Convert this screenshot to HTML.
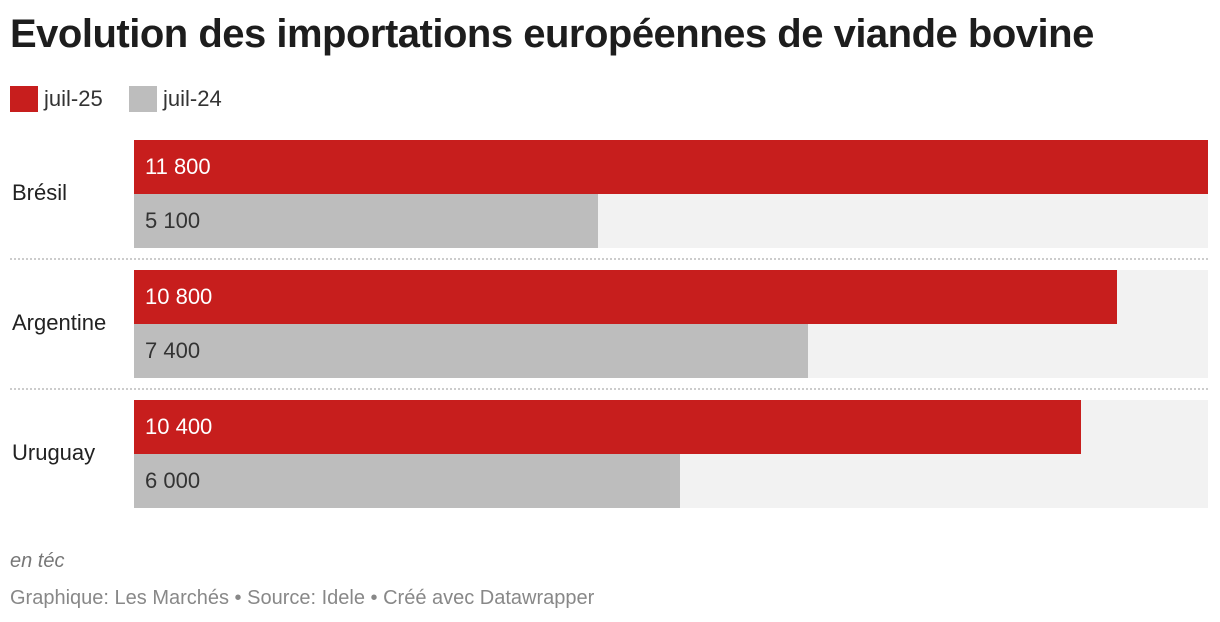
<!DOCTYPE html>
<html><head><meta charset="utf-8"><style>
body{margin:0;width:1220px;height:622px;background:#fff;font-family:"Liberation Sans",sans-serif;overflow:hidden;position:relative}
.t{position:absolute;white-space:nowrap}
</style></head><body>
<div class="t" style="left:10px;top:12px;font-size:40px;font-weight:bold;color:#1d1d1d;letter-spacing:-0.5px">Evolution des importations européennes de viande bovine</div>
<div>
<div class="t" style="left:10px;top:86px;width:28px;height:26px;background:#c71e1d"></div>
<div class="t" style="left:44px;top:86px;font-size:22px;color:#333">juil-25</div>
<div class="t" style="left:129px;top:86px;width:28px;height:26px;background:#bdbdbd"></div>
<div class="t" style="left:163px;top:86px;font-size:22px;color:#333">juil-24</div>
</div>
<div id="chart"></div>
<div class="t" style="left:10px;top:550px;font-size:20px;font-style:italic;color:#777">en téc</div>
<div class="t" style="left:10px;top:587px;font-size:20px;color:#888">Graphique: Les Marchés • Source: Idele • Créé avec Datawrapper</div>
<script>
const countries=["Brésil","Argentine","Uruguay"];
const values2025=[11800,10800,10400];
const values2024=[5100,7400,6000];
const labels2025=["11 800","10 800","10 400"];
const labels2024=["5 100","7 400","6 000"];
const chart=document.getElementById('chart');
const x0=134,plotW=1074,maxV=11800;
const xs=v=>v/maxV*plotW;
function div(style,name,text){const d=document.createElement('div');d.className='t';d.style.cssText=style;


if(text!==undefined)d.textContent=text;chart.appendChild(d);return d;}
countries.forEach((c,i)=>{
 const top=140+i*130;
 div(`left:${x0}px;top:${top}px;width:${plotW}px;height:108px;background:#f2f2f2`,'bar-background');
 div(`left:${x0}px;top:${top}px;width:${xs(values2025[i])}px;height:54px;background:#c71e1d`,'bar-juil-25');
 div(`left:${x0}px;top:${top+54}px;width:${xs(values2024[i])}px;height:54px;background:#bdbdbd`,'bar-juil-24');
 div(`left:${x0+11}px;top:${top+14}px;font-size:22px;color:#fff`,'value-label-juil-25',labels2025[i]);
 div(`left:${x0+11}px;top:${top+68}px;font-size:22px;color:#333`,'value-label-juil-24',labels2024[i]);
 div(`left:12px;top:${top+40}px;font-size:22px;color:#222`,'country-label',c);
 if(i<countries.length-1)div(`left:10px;top:${top+118}px;width:1198px;height:0;border-top:2px dotted #ccc`,'group-separator');
});
</script>
</body></html>
